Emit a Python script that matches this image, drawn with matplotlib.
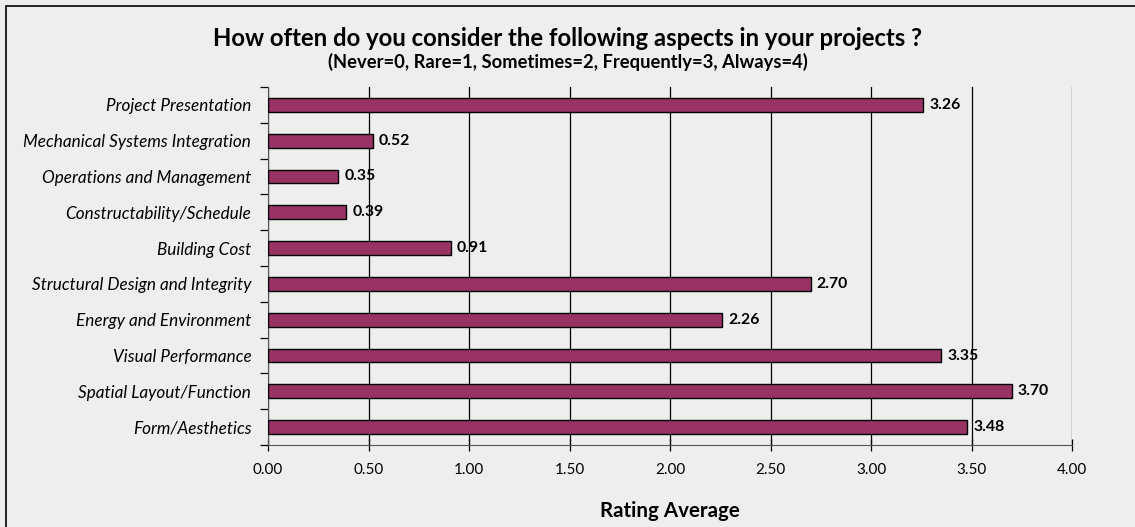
import matplotlib.pyplot as plt
from matplotlib.patches import Rectangle

plt.rcParams.update({'font.family': ['Lato', 'DejaVu Sans'], 'font.size': 11})

categories = ['Form/Aesthetics', 'Spatial Layout/Function', 'Visual Performance',
              'Energy and Environment', 'Structural Design and Integrity', 'Building Cost',
              'Constructability/Schedule', 'Operations and Management',
              'Mechanical Systems Integration', 'Project Presentation']
ratings = [3.48, 3.70, 3.35, 2.26, 2.70, 0.91, 0.39, 0.35, 0.52, 3.26]
xticks = [0, 0.5, 1.0, 1.5, 2.0, 2.5, 3.0, 3.5, 4.0]

BG = '#eeeeee'
BAR = '#993366'

W, H = 1135, 527
fig = plt.figure(figsize=(W / 100, H / 100), dpi=100, facecolor=BG)
ax = fig.add_axes([268 / W, 1 - 445 / H, (1072 - 268) / W, (445 - 87) / H])
ax.set_facecolor(BG)

# outer frame (runs off the right and bottom edges)
fig.patches.append(Rectangle((6 / W, -0.05), 1.1, 1.05 - 6 / H, transform=fig.transFigure,
                             fill=False, edgecolor='black', lw=1.2))

y = range(len(categories))
ax.barh(y, ratings, height=0.39, color=BAR, edgecolor='black', lw=1.0, zorder=3)
for yi, v in zip(y, ratings):
    ax.text(v + 0.03, yi, f'{v:.2f}', va='center', ha='left', fontsize=11.4,
            fontweight='bold', zorder=4)

ax.set_xlim(0, 4)
ax.set_ylim(-0.5, len(categories) - 0.5)
ax.set_xticks(xticks)
ax.set_xticklabels([f'{t:.2f}' for t in xticks], fontsize=11)
ax.xaxis.grid(True, color='black', lw=0.9, zorder=0)
ax.tick_params(axis='x', direction='inout', length=8, width=0.9, pad=9)

ax.set_yticks(list(y))
ax.set_yticklabels(categories, fontstyle='italic', fontsize=12.3)
ax.tick_params(axis='y', length=0, pad=12)
ax.set_yticks([i - 0.5 for i in range(len(categories) + 1)], minor=True)
ax.tick_params(axis='y', which='minor', direction='out', length=6, width=0.9)

for s in ('top', 'right'):
    ax.spines[s].set_visible(False)
ax.spines['left'].set_color('#555555')
ax.spines['bottom'].set_color('#555555')

ax.set_xlabel('Rating Average', fontsize=14.8, fontweight='bold', labelpad=17)

fig.text(0.5, 1 - 38 / H, 'How often do you consider the following aspects in your projects ?',
         ha='center', va='center', fontsize=17.2, fontweight='bold')
fig.text(0.5, 1 - 62 / H, '(Never=0, Rare=1, Sometimes=2, Frequently=3, Always=4)',
         ha='center', va='center', fontsize=13.2, fontweight='bold')

fig.savefig('out.png', dpi=100, facecolor=BG)
